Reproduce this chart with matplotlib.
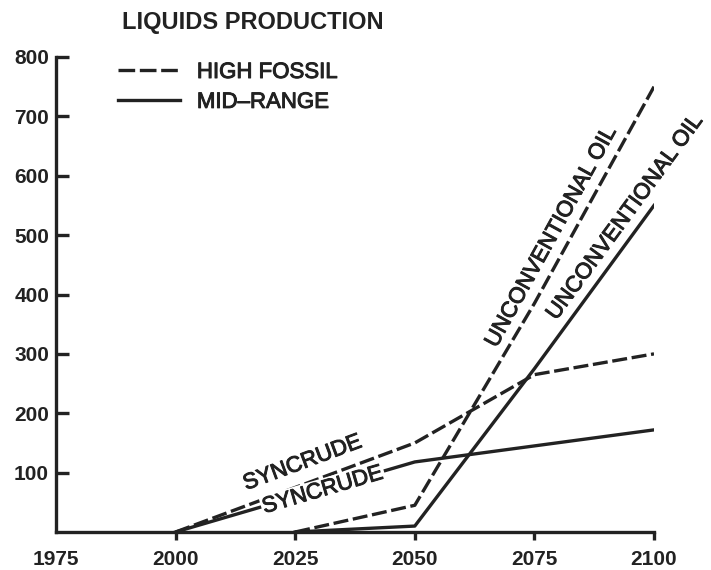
import numpy as np
import matplotlib
matplotlib.use("Agg")
import matplotlib.pyplot as plt
import matplotlib.patheffects as pe
from matplotlib.lines import Line2D

plt.rcParams['font.family'] = ['Liberation Sans', 'DejaVu Sans']

# values
hf_syn_years = [2000, 2050, 2075, 2100]
hf_syn = [0, 150, 265, 300]
mid_syn_years = [2000, 2050, 2100]
mid_syn = [0, 118, 172]
hf_unc_years = [2025, 2050, 2075, 2100]
hf_unc = [0, 45, 385, 750]
mid_unc_years = [2025, 2050, 2075, 2100]
mid_unc = [0, 10, 275, 550]

x_ticks = [1975, 2000, 2025, 2050, 2075, 2100]
y_ticks = [100, 200, 300, 400, 500, 600, 700, 800]

ink = '#222222'
lw = 2.4
dash = (4.5, 1.4)
heavy = [pe.withStroke(linewidth=0.7, foreground=ink)]

fig = plt.figure(figsize=(7.11, 5.70), dpi=100)
ax = fig.add_axes([56/711, 1 - 532/570, (654 - 56)/711, (532 - 57)/570])

ax.plot(hf_syn_years, hf_syn, color=ink, lw=lw, dashes=dash)
ax.plot(mid_syn_years, mid_syn, color=ink, lw=lw, zorder=2)
ax.plot(hf_unc_years, hf_unc, color=ink, lw=lw, dashes=dash)
ax.plot(mid_unc_years, mid_unc, color=ink, lw=lw)

ax.set_xlim(1975, 2100)
ax.set_ylim(0, 800)
for s in ['top', 'right']:
    ax.spines[s].set_visible(False)
for s in ['left', 'bottom']:
    ax.spines[s].set_linewidth(2.4)
    ax.spines[s].set_color(ink)

ax.set_xticks(x_ticks)
ax.set_yticks(y_ticks)
ax.tick_params(axis='y', direction='in', length=9, width=2.4, pad=5,
               labelsize=15, colors=ink)
ax.tick_params(axis='x', direction='out', length=6, width=2.4, pad=7,
               labelsize=15, colors=ink)
for lab in ax.get_xticklabels() + ax.get_yticklabels():
    lab.set_fontweight('bold')
ax.xaxis.get_major_ticks()[0].tick1line.set_visible(False)


def angle(xs, ys):
    p = ax.transData.transform(np.column_stack([xs, ys]))
    return np.degrees(np.arctan2(p[1, 1] - p[0, 1], p[1, 0] - p[0, 0]))


lab_kw = dict(fontsize=16, color=ink, ha='center', va='center',
              rotation_mode='anchor', path_effects=heavy)
ax.text(2026.6, 116, 'SYNCRUDE', rotation=angle(hf_syn_years[:2], hf_syn[:2]), **lab_kw)
ax.text(2030.8, 70, 'SYNCRUDE', rotation=angle(mid_syn_years[:2], mid_syn[:2]),
        bbox=dict(facecolor='white', edgecolor='none', pad=1), zorder=3, **lab_kw)
ax.text(2078.6, 497, 'UNCONVENTIONAL OIL',
        rotation=angle(hf_unc_years[2:], hf_unc[2:]), **lab_kw)
ax.text(2094.0, 530, 'UNCONVENTIONAL OIL',
        rotation=angle(mid_unc_years[2:], mid_unc[2:]), **lab_kw)

handles = [Line2D([], [], color=ink, lw=lw, dashes=(5, 1.4)),
           Line2D([], [], color=ink, lw=lw)]
leg = fig.legend(handles, ['HIGH FOSSIL', 'MID\u2013RANGE'], loc='upper left',
                 bbox_to_anchor=(118/711, 1 - 62/570), frameon=False, fontsize=16,
                 handlelength=2.8, handletextpad=0.75, labelspacing=0.4,
                 borderpad=0, borderaxespad=0, labelcolor=ink)
for t in leg.get_texts():
    t.set_path_effects(heavy)

fig.text(253/711, 1 - 22/570, 'LIQUIDS PRODUCTION', fontsize=17, fontweight='bold',
         ha='center', va='center', color=ink)

fig.savefig('out.png', dpi=100)
